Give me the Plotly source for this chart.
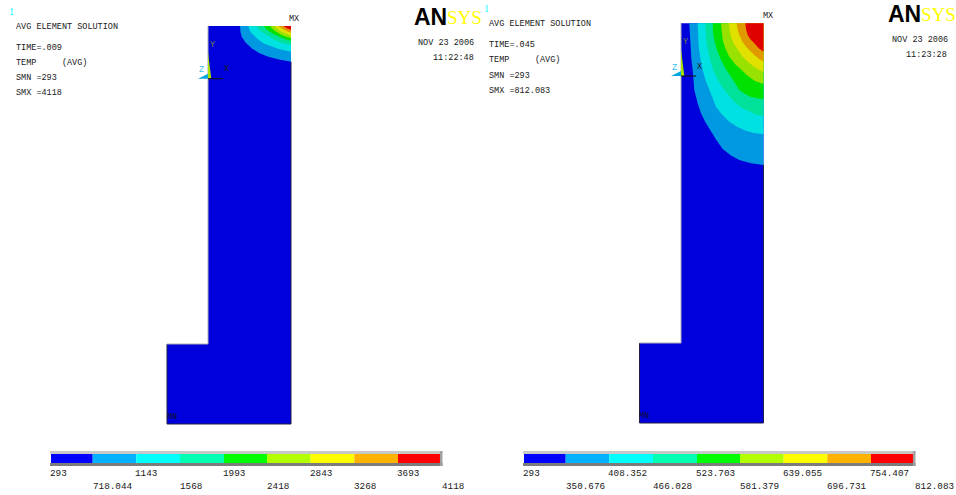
import plotly.graph_objects as go

# Colour scale levels (nine bands, low to high)
levels_left_row1 = ["293", "1143", "1993", "2843", "3693"]
levels_left_row2 = ["718.044", "1568", "2418", "3268", "4118"]
levels_right_row1 = ["293", "408.352", "523.703", "639.055", "754.407"]
levels_right_row2 = ["350.676", "466.028", "581.379", "696.731", "812.083"]
legend_edges = [51, 92.7, 136.3, 180, 224, 267, 310.7, 354.3, 398, 440]
legend_colors = ["#0000ff", "#00b2ff", "#00ffff", "#00ffb2", "#00ff00", "#b2ff00", "#ffff00", "#ffb200", "#ff0000"]
field_colors = ["#0000dc", "#0099e1", "#00e1e1", "#00e199", "#00e100", "#99e100", "#e1e100", "#e19900", "#e10000"]

# Model outlines (image-plane coordinates)
left_outline_x = [208, 291, 291, 167, 167, 208]
left_outline_y = [26, 26, 424, 424, 344, 344]
right_outline_x = [681, 763.5, 763.5, 639.5, 639.5, 681]
right_outline_y = [23.3, 23.3, 423, 423, 343, 343]

# Temperature isotherms, left model (TIME=.009): one curve per band edge
left_iso_x = [
    [240, 240.5, 241.7, 245.5, 251.7, 259, 268.3, 279, 291],
    [248.3, 249.5, 251.7, 257, 263.3, 270, 276.7, 284, 291],
    [256.7, 258.5, 261.7, 266.5, 271.7, 276.5, 281.7, 291],
    [263.3, 265.5, 268.3, 272, 276.7, 283.5, 291],
    [270, 272, 275, 278, 281.7, 286, 291],
    [274.3, 277, 280, 285, 291],
    [278.3, 280.5, 283.3, 287, 291],
    [283.3, 286.7, 291],
]
left_iso_y = [
    [26, 32, 36.7, 42.5, 48.3, 53, 56.7, 59.5, 61.7],
    [26, 30, 33.3, 38.5, 43.3, 46, 48.3, 50.3, 51.7],
    [26, 29, 31.7, 35, 38.3, 40.7, 42.7, 45],
    [26, 28.5, 30.7, 33.2, 35.7, 38.5, 41],
    [26, 28.5, 31, 33, 35, 36.8, 38.3],
    [26, 28.7, 31, 33.3, 35.7],
    [26, 27.8, 29.3, 31.2, 32.7],
    [26, 28.3, 29.7],
]

# Temperature isotherms, right model (TIME=.045)
right_iso_x = [
    [689.3, 689.8, 690.3, 691.3, 692.7, 694.3, 697.7, 701, 705.3, 709.3, 716, 722.7, 731, 739.3, 751, 763.5],
    [697.7, 698, 698.7, 700.3, 702.7, 705.5, 709.3, 712, 716, 722, 729.3, 737, 746, 754, 763.5],
    [705.3, 705.8, 706.7, 709.3, 713.3, 718, 724.3, 730, 736, 742, 749.3, 756, 763.5],
    [712.7, 713, 714.3, 717, 721, 725.5, 731, 736, 739.3, 745, 751, 763.5],
    [721, 722, 722.7, 725.5, 729.3, 735, 741, 748, 755, 763.5],
    [728.7, 729.5, 731, 734, 737.7, 742, 747.7, 755, 763.5],
    [736.7, 737.5, 739.3, 742, 746, 750, 754.3, 758.5, 763.5],
    [745.3, 746, 747.7, 750.5, 754.3, 758.5, 763.5],
]
right_iso_y = [
    [23.3, 35, 46.7, 58, 70, 90, 103.3, 113.3, 122, 129, 139.5, 149, 155.5, 160, 163.3, 165],
    [23.3, 35, 46.7, 58, 70, 80, 90, 98, 106.7, 114.5, 121.7, 126.7, 130.7, 133, 134.3],
    [23.3, 33, 43.3, 57, 70, 80, 90, 97, 103.3, 108, 111.7, 114.5, 116],
    [23.3, 32, 40, 50, 60, 68.5, 76.7, 84, 90, 94, 97, 99.3],
    [23.3, 33, 40, 49, 56.7, 64, 70, 76, 81, 84],
    [23.3, 30, 36.7, 44, 50, 56, 61.7, 67.5, 72],
    [23.3, 29, 35, 41, 46.7, 51, 55, 58.5, 61.7],
    [23.3, 29, 35, 39.5, 43.3, 48, 51.7],
]

# Annotation texts
info_left = [("AVG ELEMENT SOLUTION", 26.5), ("TIME=.009", 48), ("TEMP     (AVG)", 63), ("SMN =293", 78), ("SMX =4118", 93)]
info_right = [("AVG ELEMENT SOLUTION", 23.5), ("TIME=.045", 45), ("TEMP     (AVG)", 60), ("SMN =293", 75.5), ("SMX =812.083", 90.5)]

MONO = "Liberation Mono"
fig = go.Figure()
annotations = []


def text(x, y, s, size, color="#202020", family=MONO, anchor="left", bold=False):
    annotations.append(dict(x=x, y=y, text=f"<b>{s}</b>" if bold else s, showarrow=False, xanchor=anchor, yanchor="middle",
                            xref="x", yref="y", align=anchor, borderpad=0, borderwidth=0,
                            font=dict(family=family, size=size, color=color)))


def panel(dx, ox, oy, iso_x, iso_y, row1, row2, info, info_x, num_xy, date, time_, date_xy, time_xy,
          logo_x, logo_y, mx, mn):
    top, right = oy[0], ox[1]
    # base model
    fig.add_trace(go.Scatter(x=ox + [ox[0]], y=oy + [oy[0]], mode="lines", fill="toself",
                             fillcolor=field_colors[0], line=dict(width=0), hoverinfo="skip"))
    # bands, from coolest to hottest
    for xs, ys, col in zip(iso_x, iso_y, field_colors[1:]):
        fig.add_trace(go.Scatter(x=xs + [right, xs[0]], y=ys + [top, top], mode="lines", fill="toself",
                                 fillcolor=col, line=dict(width=0), hoverinfo="skip"))
    # edges of the model
    fig.add_trace(go.Scatter(x=[ox[1], ox[2], ox[3], ox[4]], y=[iso_y[0][-1], oy[2], oy[3], oy[4]], mode="lines",
                             line=dict(color="#20204a", width=1), hoverinfo="skip"))
    fig.add_trace(go.Scatter(x=[ox[4], ox[5], ox[5]], y=[oy[4], oy[5], top], mode="lines",
                             line=dict(color="#b0b0b8", width=1), hoverinfo="skip"))
    # triad
    tx, ty = ox[0], top + 26.7
    fig.add_trace(go.Scatter(x=[tx, tx, tx + 3.3, tx], y=[ty - 0.5, ty + 26, ty + 26, ty - 0.5], mode="lines", fill="toself",
                             fillcolor="#a8e000", line=dict(width=0), hoverinfo="skip"))
    fig.add_trace(go.Scatter(x=[tx - 10, tx, tx, tx - 10], y=[ty + 26, ty + 21, ty + 26, ty + 26], mode="lines", fill="toself",
                             fillcolor="#00a8e0", line=dict(width=0), hoverinfo="skip"))
    fig.add_trace(go.Scatter(x=[tx, tx + 15], y=[ty + 26, ty + 26], mode="lines",
                             line=dict(color="#101010", width=1), hoverinfo="skip"))
    # colour scale: frame then bands
    e0, e1 = legend_edges[0] + dx, legend_edges[-1] + dx
    fig.add_trace(go.Scatter(x=[e0 - 1, e1 + 2.5], y=[452.5, 452.5], mode="lines",
                             line=dict(color="#c8c8c8", width=3), hoverinfo="skip"))
    fig.add_trace(go.Scatter(x=[e0 - 1, e1 + 2.5], y=[464.5, 464.5], mode="lines",
                             line=dict(color="#7c7c7c", width=3), hoverinfo="skip"))
    fig.add_trace(go.Scatter(x=[e1 + 1.2, e1 + 1.2], y=[451, 466], mode="lines",
                             line=dict(color="#a0a0a0", width=2.5), hoverinfo="skip"))
    fig.add_trace(go.Bar(x=[(a + b) / 2 + dx for a, b in zip(legend_edges[:-1], legend_edges[1:])],
                         width=[b - a for a, b in zip(legend_edges[:-1], legend_edges[1:])],
                         y=[9.5] * 9, base=[453.5] * 9, marker=dict(color=legend_colors, line=dict(width=0)),
                         hoverinfo="skip"))
    # tick labels under the scale
    for i, t in enumerate(row1):
        text(legend_edges[2 * i] + dx - 1, 473, t, 9.3)
    for i, t in enumerate(row2):
        text(legend_edges[2 * i + 1] + dx + (0 if i < 4 else 2), 486, t, 9.3)
    for t, y in info:
        text(info_x, y, t, 8.5)
    text(num_xy[0], num_xy[1], "1", 10, color="#00ffff", family="Liberation Serif")
    text(date_xy[0], date_xy[1], date, 8.5)
    text(time_xy[0], time_xy[1], time_, 8.5, anchor="right")
    text(logo_x, logo_y, "AN", 23, family="Liberation Sans", anchor="right", color="#000000", bold=True)
    text(logo_x, logo_y, "SYS", 19, family="Liberation Serif", color="#ffff00")
    text(mx[0], mx[1], "MX", 8.5)
    text(mn[0], mn[1], "MN", 8.5, color="#101030")
    text(tx + 1.5, ty - 8, "Y", 8.5, color="#708040")
    text(tx - 9, ty + 17.5, "Z", 8.5, color="#30c0f0")
    text(tx + 15.5, ty + 16.5, "X", 8.5, color="#202020")


panel(0, left_outline_x, left_outline_y, left_iso_x, left_iso_y, levels_left_row1, levels_left_row2,
      info_left, 16, (9, 11), "NOV 23 2006", "11:22:48", (418, 42.5), (474, 57.5),
      447, 17, (288.5, 19), (166.5, 417))
panel(473, right_outline_x, right_outline_y, right_iso_x, right_iso_y, levels_right_row1, levels_right_row2,
      info_right, 489, (483.5, 8), "NOV 23 2006", "11:23:28", (891.5, 39.5), (947, 55),
      920.5, 14, (762.5, 16), (639, 415.5))

fig.update_layout(
    width=956, height=495, margin=dict(l=0, r=0, t=0, b=0), showlegend=False,
    paper_bgcolor="white", plot_bgcolor="white", barmode="overlay",
    xaxis=dict(range=[0, 956], visible=False, fixedrange=True),
    yaxis=dict(range=[495, 0], visible=False, fixedrange=True),
    annotations=annotations,
)

fig.write_html("out.html", config={"displayModeBar": False}, post_script="document.body.style.margin='0';")
